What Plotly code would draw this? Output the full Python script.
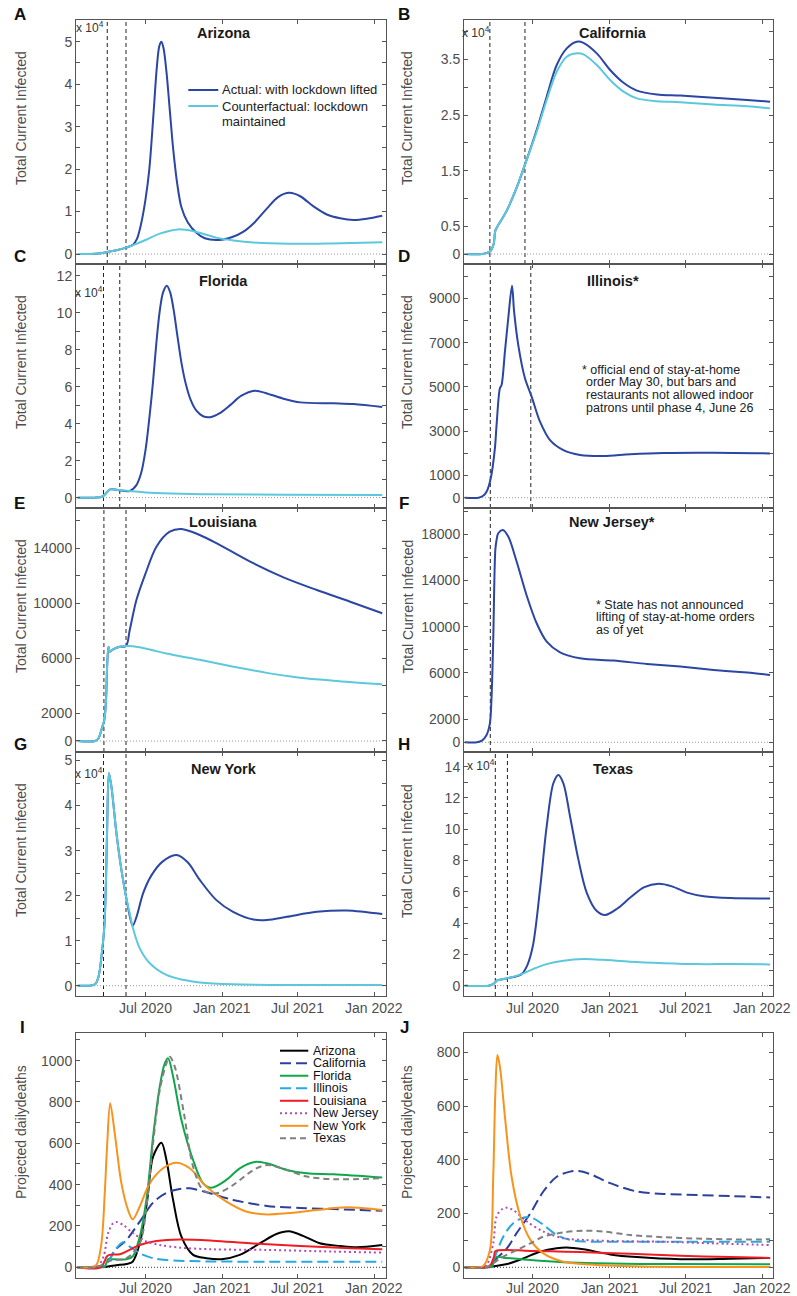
import plotly.graph_objects as go

W, H = 797, 1296

# ======================= DATA =======================
# Panel A: Arizona, total current infected (x 10^4)
az_dates = ['2020-01-20', '2020-02-20', '2020-03-10', '2020-04-01', '2020-04-22', '2020-05-15',
            '2020-06-01', '2020-06-10', '2020-06-20', '2020-07-01', '2020-07-10', '2020-07-20',
            '2020-07-28', '2020-08-03', '2020-08-08', '2020-08-13', '2020-08-20', '2020-08-28',
            '2020-09-05', '2020-09-15', '2020-09-25', '2020-10-10', '2020-10-31', '2020-11-20',
            '2020-12-24', '2021-01-25', '2021-02-20', '2021-03-20', '2021-04-18', '2021-05-15',
            '2021-06-11', '2021-07-07', '2021-08-08', '2021-09-09', '2021-10-11', '2021-11-12',
            '2021-12-14', '2022-01-20']
az_actual = [0, 0, 0.01, 0.05, 0.09, 0.15,
             0.22, 0.35, 0.7, 1.3, 2.0, 3.3,
             4.4, 4.9, 5.0, 4.85, 4.3, 3.4,
             2.5, 1.65, 1.1, 0.75, 0.5, 0.37,
             0.33, 0.40, 0.52, 0.75, 1.07, 1.34,
             1.44, 1.36, 1.12, 0.93, 0.84, 0.80,
             0.83, 0.90]
az_cf_dates = ['2020-01-20', '2020-02-20', '2020-03-10', '2020-04-01', '2020-04-22', '2020-05-15',
               '2020-06-01', '2020-07-01', '2020-08-04', '2020-09-17', '2020-10-31', '2020-12-20',
               '2021-01-28', '2021-03-17', '2021-06-12', '2021-09-21', '2022-01-20']
az_cf = [0, 0, 0.01, 0.05, 0.09, 0.15,
         0.21, 0.33, 0.48, 0.58, 0.52, 0.38,
         0.32, 0.27, 0.24, 0.25, 0.28]

# Panel B: California (x 10^4)
ca_dates = ['2020-01-20', '2020-03-01', '2020-03-12', '2020-03-21', '2020-03-29', '2020-04-02',
            '2020-04-06', '2020-04-30', '2020-05-24', '2020-06-13', '2020-07-10', '2020-08-03',
            '2020-08-27', '2020-09-20', '2020-10-14', '2020-10-30', '2020-12-01', '2021-01-02',
            '2021-02-03', '2021-03-07', '2021-04-24', '2021-06-19', '2021-09-07', '2021-11-26',
            '2022-01-20']
ca_actual = [0, 0, 0.02, 0.05, 0.18, 0.42,
             0.48, 0.79, 1.21, 1.63, 2.23, 2.83,
             3.40, 3.70, 3.82, 3.80, 3.61, 3.31,
             3.08, 2.94, 2.87, 2.85, 2.81, 2.77,
             2.74]
ca_cf = [0, 0, 0.02, 0.05, 0.18, 0.42,
         0.48, 0.79, 1.21, 1.63, 2.20, 2.77,
         3.28, 3.55, 3.61, 3.59, 3.40, 3.13,
         2.92, 2.80, 2.75, 2.73, 2.69, 2.66,
         2.62]

# Panel C: Florida (x 10^4)
fl_dates = ['2020-01-20', '2020-03-01', '2020-03-13', '2020-03-22', '2020-04-07', '2020-04-25',
            '2020-05-24', '2020-06-09', '2020-06-20', '2020-07-01', '2020-07-11', '2020-07-19',
            '2020-07-27', '2020-08-04', '2020-08-12', '2020-08-21', '2020-08-29', '2020-09-06',
            '2020-09-15', '2020-09-25', '2020-10-05', '2020-10-17', '2020-10-31', '2020-11-16',
            '2020-12-03', '2020-12-25', '2021-01-20', '2021-02-15', '2021-03-20', '2021-04-20',
            '2021-05-28', '2021-07-07', '2021-09-25', '2021-11-12', '2022-01-20']
fl_actual = [0, 0, 0.02, 0.1, 0.45, 0.41,
             0.36, 0.68, 1.3, 2.6, 4.5, 6.3,
             8.4, 10.1, 11.1, 11.46, 11.1, 10.2,
             8.8, 7.3, 6.2, 5.3, 4.7, 4.4,
             4.35, 4.55, 5.0, 5.5, 5.78, 5.62,
             5.35, 5.15, 5.1, 5.06, 4.9]
fl_cf_dates = ['2020-01-20', '2020-03-01', '2020-03-13', '2020-03-22', '2020-04-07', '2020-04-25',
               '2020-05-24', '2020-07-01', '2020-09-01', '2020-12-01', '2021-06-01', '2022-01-20']
fl_cf = [0, 0, 0.02, 0.1, 0.45, 0.41,
         0.36, 0.28, 0.22, 0.18, 0.16, 0.14]

# Panel D: Illinois
il_dates = ['2020-01-20', '2020-02-22', '2020-03-04', '2020-03-12', '2020-03-22', '2020-04-01',
            '2020-04-05', '2020-04-13', '2020-04-17', '2020-04-25', '2020-05-03', '2020-05-12',
            '2020-05-17', '2020-05-27', '2020-06-12', '2020-06-28', '2020-07-18', '2020-08-11',
            '2020-09-12', '2020-10-22', '2020-12-17', '2021-02-19', '2021-05-10', '2021-09-07',
            '2022-01-20']
il_actual = [0, 0, 90, 270, 870, 2230,
             3280, 4940, 5090, 6590, 8100, 9570,
             8400, 6890, 5390, 4560, 3430, 2600,
             2150, 1930, 1880, 1960, 2020, 2030,
             2000]

# Panel E: Louisiana
la_dates = ['2020-01-20', '2020-03-02', '2020-03-10', '2020-03-18', '2020-03-24', '2020-03-28',
            '2020-03-31', '2020-04-03', '2020-04-06', '2020-04-14', '2020-04-30', '2020-05-15',
            '2020-05-24', '2020-06-09', '2020-07-01', '2020-07-27', '2020-08-28', '2020-09-25',
            '2020-11-08', '2020-12-19', '2021-03-09', '2021-05-28', '2021-08-16', '2021-11-04',
            '2022-01-20']
la_actual = [0, 0, 190, 920, 1530, 2980,
             5640, 6850, 6490, 6660, 6850, 6900,
             8060, 10240, 12180, 14120, 15210, 15400,
             14970, 14360, 13030, 11890, 10970, 10120,
             9280]
la_cf_dates = ['2020-01-20', '2020-03-02', '2020-03-10', '2020-03-18', '2020-03-24', '2020-03-28',
               '2020-03-31', '2020-04-03', '2020-04-06', '2020-04-14', '2020-04-30', '2020-05-15',
               '2020-06-01', '2020-07-11', '2020-08-20', '2020-11-08', '2021-01-28', '2021-04-18',
               '2021-07-07', '2021-09-25', '2022-01-20']
la_cf = [0, 0, 190, 920, 1530, 2980,
         5640, 6850, 6490, 6660, 6850, 6900,
         6880, 6650, 6350, 5900, 5400, 4950,
         4600, 4380, 4120]

# Panel F: New Jersey
nj_dates = ['2020-01-20', '2020-02-18', '2020-03-01', '2020-03-12', '2020-03-20', '2020-03-24',
            '2020-03-28', '2020-04-02', '2020-04-05', '2020-04-09', '2020-04-20', '2020-05-03',
            '2020-05-23', '2020-06-17', '2020-07-10', '2020-08-03', '2020-09-04', '2020-10-22',
            '2021-01-10', '2021-03-31', '2021-06-19', '2021-09-07', '2021-11-26', '2022-01-20']
nj_actual = [0, 0, 140, 630, 1640, 3950,
             8860, 16640, 17510, 18090, 18370, 17800,
             15640, 12600, 10300, 8710, 7790, 7270,
             7070, 6780, 6550, 6260, 6030, 5830]

# Panel G: New York (x 10^4)
ny_dates = ['2020-01-20', '2020-02-18', '2020-03-02', '2020-03-10', '2020-03-18', '2020-03-24',
            '2020-03-28', '2020-03-31', '2020-04-04', '2020-04-10', '2020-04-22', '2020-05-04',
            '2020-05-15', '2020-05-24', '2020-05-31', '2020-06-10', '2020-06-25', '2020-07-15',
            '2020-08-10', '2020-09-13', '2020-10-10', '2020-11-08', '2020-12-18', '2021-01-27',
            '2021-03-17', '2021-04-18', '2021-06-05', '2021-08-16', '2021-10-27', '2022-01-20']
ny_actual = [0, 0, 0.03, 0.2, 0.72, 1.31,
             2.35, 3.61, 4.72, 4.42, 3.39, 2.57,
             1.98, 1.55, 1.33, 1.55, 2.05, 2.45,
             2.75, 2.90, 2.74, 2.35, 1.90, 1.64,
             1.47, 1.46, 1.53, 1.64, 1.67, 1.59]
ny_cf_dates = ['2020-01-20', '2020-02-18', '2020-03-02', '2020-03-10', '2020-03-18', '2020-03-24',
               '2020-03-28', '2020-03-31', '2020-04-04', '2020-04-10', '2020-04-22', '2020-05-04',
               '2020-05-15', '2020-05-24', '2020-06-01', '2020-06-17', '2020-07-11', '2020-08-20',
               '2020-09-29', '2020-11-08', '2021-01-27', '2022-01-20']
ny_cf = [0, 0, 0.03, 0.2, 0.72, 1.31,
         2.35, 3.61, 4.72, 4.42, 3.39, 2.57,
         1.98, 1.60, 1.27, 0.83, 0.50, 0.24,
         0.13, 0.07, 0.03, 0.015]

# Panel H: Texas (x 10^4)
tx_dates = ['2020-01-20', '2020-03-17', '2020-03-28', '2020-04-03', '2020-04-05', '2020-05-01',
            '2020-06-04', '2020-06-17', '2020-07-01', '2020-07-18', '2020-08-03', '2020-08-19',
            '2020-08-31', '2020-09-12', '2020-09-28', '2020-10-18', '2020-11-07', '2020-12-01',
            '2020-12-21', '2021-01-20', '2021-02-20', '2021-03-25', '2021-04-28', '2021-05-30',
            '2021-07-05', '2021-08-14', '2021-10-17', '2022-01-20']
tx_actual = [0, 0, 0.1, 0.25, 0.32, 0.47,
             0.74, 1.27, 2.55, 6.15, 10.18, 12.94,
             13.47, 12.94, 10.82, 8.06, 5.94, 4.77,
             4.52, 4.95, 5.65, 6.30, 6.51, 6.35,
             5.95, 5.72, 5.60, 5.58]
tx_cf_dates = ['2020-01-20', '2020-03-17', '2020-03-28', '2020-04-03', '2020-04-05', '2020-05-01',
               '2020-06-04', '2020-07-01', '2020-08-03', '2020-09-12', '2020-10-30', '2020-12-17',
               '2021-02-19', '2021-05-10', '2021-07-29', '2021-10-17', '2022-01-20']
tx_cf = [0, 0, 0.1, 0.25, 0.32, 0.47,
         0.74, 1.06, 1.38, 1.59, 1.70, 1.65,
         1.53, 1.44, 1.38, 1.38, 1.36]

# Lockdown start / lift dates (dashed vertical lines)
lock_dates = {
    'Arizona': ['2020-03-31', '2020-05-15'],
    'California': ['2020-03-20', '2020-06-12'],
    'Florida': ['2020-03-22', '2020-04-30'],
    'Illinois': ['2020-03-21', '2020-06-26'],
    'Louisiana': ['2020-03-23', '2020-05-15'],
    'New Jersey': ['2020-03-21'],
    'New York': ['2020-03-22', '2020-05-15'],
    'Texas': ['2020-04-02', '2020-05-01'],
}

# Panel I: projected daily deaths, lockdown lifted
i_az_d = ['2020-01-20', '2020-03-05', '2020-03-30', '2020-04-22', '2020-05-16', '2020-05-31', '2020-06-17',
          '2020-07-04', '2020-07-19', '2020-08-08', '2020-08-20', '2020-09-05', '2020-09-25', '2020-10-23',
          '2020-11-24', '2020-12-30', '2021-02-12', '2021-04-01', '2021-05-11', '2021-06-10', '2021-07-14',
          '2021-08-23', '2021-10-11', '2021-11-20', '2022-01-20']
i_az = [0, 0, 3, 10, 16, 27, 116, 310, 535, 603, 519, 326, 148, 60,
        44, 39, 60, 116, 161, 174, 152, 116, 103, 97, 108]
i_ca_d = ['2020-01-20', '2020-03-10', '2020-03-30', '2020-04-19', '2020-05-16', '2020-06-17', '2020-07-19',
          '2020-08-20', '2020-09-21', '2020-10-15', '2020-11-24', '2021-01-27', '2021-04-18', '2021-07-07',
          '2021-09-25', '2022-01-20']
i_ca = [0, 0, 19, 84, 132, 221, 313, 360, 379, 382, 363, 326, 297, 287, 282, 273]
i_fl_d = ['2020-01-20', '2020-03-15', '2020-03-25', '2020-04-02', '2020-04-10', '2020-05-16', '2020-05-31',
          '2020-06-17', '2020-07-04', '2020-07-19', '2020-08-04', '2020-08-16', '2020-08-24', '2020-09-05',
          '2020-09-25', '2020-10-23', '2020-11-16', '2020-12-06', '2021-01-11', '2021-02-12', '2021-03-20',
          '2021-04-18', '2021-06-05', '2021-07-23', '2021-09-25', '2022-01-20']
i_fl = [0, 0, 2, 40, 39, 39, 52, 148, 342, 632, 874, 987, 1011, 923,
        713, 519, 406, 385, 423, 479, 510, 503, 471, 455, 450, 434]
i_il_d = ['2020-01-20', '2020-03-10', '2020-03-30', '2020-04-19', '2020-05-08', '2020-05-24', '2020-06-17',
          '2020-07-19', '2020-08-20', '2020-11-08', '2021-04-18', '2022-01-20']
i_il = [0, 0, 19, 84, 121, 100, 68, 44, 35, 29, 27, 27]
i_la_d = ['2020-01-20', '2020-03-15', '2020-03-30', '2020-04-05', '2020-04-30', '2020-05-20', '2020-06-17',
          '2020-07-27', '2020-09-21', '2020-12-10', '2021-03-09', '2021-07-07', '2021-11-04', '2022-01-20']
i_la = [0, 0, 52, 60, 63, 81, 108, 127, 135, 129, 116, 103, 92, 87]
i_nj_d = ['2020-01-20', '2020-03-05', '2020-03-22', '2020-04-02', '2020-04-14', '2020-04-22', '2020-05-08',
          '2020-06-01', '2020-07-04', '2020-08-04', '2020-09-21', '2020-12-10', '2021-04-18', '2021-09-25',
          '2022-01-20']
i_nj = [0, 0, 52, 165, 213, 219, 205, 165, 124, 108, 95, 87, 84, 76, 71]
i_ny_d = ['2020-01-20', '2020-02-20', '2020-03-05', '2020-03-17', '2020-03-25', '2020-03-31', '2020-04-07',
          '2020-04-19', '2020-05-04', '2020-05-20', '2020-05-31', '2020-06-17', '2020-07-11', '2020-08-12',
          '2020-09-13', '2020-10-15', '2020-11-24', '2021-01-11', '2021-03-01', '2021-04-18', '2021-06-05',
          '2021-08-16', '2021-10-27', '2022-01-20']
i_ny = [0, 0, 11, 116, 358, 600, 794, 632, 406, 277, 232, 294, 406, 479,
        506, 479, 390, 318, 269, 256, 261, 277, 290, 277]
i_tx_d = ['2020-01-20', '2020-03-01', '2020-03-13', '2020-04-07', '2020-05-16', '2020-06-17', '2020-07-04',
          '2020-07-19', '2020-08-04', '2020-08-20', '2020-08-28', '2020-09-09', '2020-10-01', '2020-10-23',
          '2020-11-16', '2020-12-18', '2021-01-27', '2021-03-17', '2021-04-18', '2021-06-05', '2021-07-23',
          '2021-09-25', '2022-01-20']
i_tx = [0, 0, 6, 32, 44, 116, 310, 600, 858, 987, 1019, 971, 745, 487,
        374, 358, 398, 471, 495, 471, 439, 426, 431]

# Panel J: projected daily deaths, lockdown maintained
j_az_d = ['2020-01-20', '2020-03-10', '2020-03-20', '2020-04-30', '2020-06-08', '2020-07-18', '2020-08-27',
          '2020-09-20', '2020-10-30', '2021-01-02', '2021-03-07', '2021-06-19', '2021-10-17', '2022-01-20']
j_az = [0, 0, 2, 12, 33, 58, 71, 74, 67, 48, 38, 30, 32, 35]
j_ca_d = ['2020-01-20', '2020-03-05', '2020-03-20', '2020-04-05', '2020-04-30', '2020-05-23', '2020-06-25',
          '2020-07-26', '2020-08-27', '2020-09-28', '2020-10-18', '2020-11-15', '2021-01-02', '2021-03-07',
          '2021-05-10', '2021-07-29', '2021-10-17', '2022-01-20']
j_ca = [0, 0, 5, 33, 71, 127, 201, 282, 337, 356, 358, 347, 313, 282, 273, 269, 265, 260]
j_fl_d = ['2020-01-20', '2020-03-15', '2020-03-25', '2020-04-02', '2020-04-21', '2020-06-25', '2020-09-12',
          '2020-12-01', '2021-05-10', '2022-01-20']
j_fl = [0, 0, 2, 38, 36, 27, 19, 15, 12, 11]
j_il_d = ['2020-01-20', '2020-03-05', '2020-03-20', '2020-04-01', '2020-04-21', '2020-05-15', '2020-06-12',
          '2020-07-02', '2020-07-26', '2020-08-27', '2020-09-28', '2020-10-30', '2021-01-02', '2021-05-10',
          '2021-10-17', '2022-01-20']
j_il = [0, 0, 5, 40, 114, 164, 186, 182, 158, 120, 102, 96, 95, 95, 95, 95]
j_la_d = ['2020-01-20', '2020-03-10', '2020-03-20', '2020-03-30', '2020-04-02', '2020-06-25', '2020-10-22',
          '2021-02-19', '2021-06-19', '2021-10-17', '2022-01-20']
j_la = [0, 0, 5, 40, 60, 61, 57, 50, 43, 38, 35]
j_nj_d = ['2020-01-20', '2020-02-25', '2020-03-12', '2020-03-28', '2020-04-05', '2020-04-18', '2020-04-30',
          '2020-05-15', '2020-06-17', '2020-07-26', '2020-09-12', '2020-10-30', '2021-01-02', '2021-05-10',
          '2021-09-07', '2022-01-20']
j_nj = [0, 0, 9, 89, 189, 216, 222, 213, 170, 133, 108, 102, 98, 95, 89, 83]
j_ny_d = ['2020-01-20', '2020-02-18', '2020-03-04', '2020-03-20', '2020-03-28', '2020-04-02', '2020-04-07',
          '2020-04-13', '2020-04-25', '2020-05-11', '2020-06-01', '2020-06-25', '2020-07-26', '2020-09-12',
          '2020-12-01', '2021-05-10', '2022-01-20']
j_ny = [0, 0, 5, 64, 337, 647, 790, 747, 561, 337, 189, 102, 52, 21, 9, 2, 1]
j_tx_d = ['2020-01-20', '2020-03-10', '2020-03-28', '2020-04-13', '2020-05-23', '2020-06-25', '2020-07-26',
          '2020-09-12', '2020-10-30', '2020-12-17', '2021-02-19', '2021-05-10', '2021-07-29', '2021-10-17',
          '2022-01-20']
j_tx = [0, 0, 15, 33, 64, 89, 114, 130, 136, 133, 120, 112, 107, 104, 104]

# x-axis tick labels
x_tickvals = ['2020-07-01', '2021-01-01', '2021-07-01', '2022-01-01']
x_ticktext = ['Jul 2020', 'Jan 2021', 'Jul 2021', 'Jan 2022']

# ======================= STYLE =======================
FONT = 'Liberation Sans, Arial, Helvetica, sans-serif'
BLUE = '#2B46A3'
CYAN = '#5CC8DC'
TICKC = '#4D4D4D'
AXC = '#555555'
state_colors = {
    'Arizona': '#000000', 'California': '#2E3F9C', 'Florida': '#10A64A', 'Illinois': '#25A9E1',
    'Louisiana': '#EE1D24', 'New Jersey': '#B24DAE', 'New York': '#F7941D', 'Texas': '#808080'}
state_dash = {
    'Arizona': 'solid', 'California': '11px,5px', 'Florida': 'solid', 'Illinois': '11px,5px',
    'Louisiana': 'solid', 'New Jersey': '2px,3px', 'New York': 'solid', 'Texas': '6px,4px'}

LEFT = [76 / W, 386 / W]
RIGHT = [464 / W, 773 / W]
ROWS = [(20, 264), (264, 508), (508, 752), (752, 996), (1033, 1278)]


def ydom(t, b):
    return [1 - b / H, 1 - t / H]


def px(x):
    return x / W


def py(y):
    return 1 - y / H


fig = go.Figure()


def minor_list(step, top):
    vals = []
    v = 0.0
    while v <= top + 1e-9:
        vals.append(round(v, 6))
        v += step
    return vals


panels = [
    ('Arizona', 0, 0, [(az_dates, az_actual, BLUE), (az_cf_dates, az_cf, CYAN)],
     [-0.235, 5.51], 0.5, 5, [0, 1, 2, 3, 4, 5]),
    ('California', 0, 1, [(ca_dates, ca_actual, BLUE), (ca_dates, ca_cf, CYAN)],
     [-0.18, 4.21], 0.5, 4, [0, 0.5, 1.5, 2.5, 3.5]),
    ('Florida', 1, 0, [(fl_dates, fl_actual, BLUE), (fl_cf_dates, fl_cf, CYAN)],
     [-0.56, 12.63], 1, 12, [0, 2, 4, 6, 8, 10, 12]),
    ('Illinois', 1, 1, [(il_dates, il_actual, BLUE)],
     [-465, 10548], 1000, 10000, [0, 1000, 3000, 5000, 7000, 9000]),
    ('Louisiana', 2, 0, [(la_dates, la_actual, BLUE), (la_cf_dates, la_cf, CYAN)],
     [-800, 16930], 2000, 16000, [0, 2000, 6000, 10000, 14000]),
    ('New Jersey', 2, 1, [(nj_dates, nj_actual, BLUE)],
     [-840, 20276], 2000, 20000, [0, 2000, 6000, 10000, 14000, 18000]),
    ('New York', 3, 0, [(ny_dates, ny_actual, BLUE), (ny_cf_dates, ny_cf, CYAN)],
     [-0.229, 5.19], 0.5, 5, [0, 1, 2, 3, 4, 5]),
    ('Texas', 3, 1, [(tx_dates, tx_actual, BLUE), (tx_cf_dates, tx_cf, CYAN)],
     [-0.66, 14.94], 1, 14, [0, 2, 4, 6, 8, 10, 12, 14]),
]
titles = {'Arizona': 'Arizona', 'California': 'California', 'Florida': 'Florida',
          'Illinois': 'Illinois*', 'Louisiana': 'Louisiana', 'New Jersey': 'New Jersey*',
          'New York': 'New York', 'Texas': 'Texas'}

layout = {}
shapes = []
annotations = []


def axis_common(n, col, row, yrange, labelled, minor_vals):
    xd = LEFT if col == 0 else RIGHT
    xr = ['2020-01-16', '2022-01-29'] if col == 0 else ['2020-01-18', '2022-01-27']
    t, b = ROWS[row]
    sfx = '' if n == 1 else str(n)
    layout['xaxis' + sfx] = dict(
        domain=xd, range=xr, type='date', anchor='y' + sfx,
        showline=True, linecolor=AXC, linewidth=1, mirror='ticks',
        ticks='inside', ticklen=4, tickcolor=AXC, tickmode='array',
        tickvals=x_tickvals, showticklabels=False,
        showgrid=False, zeroline=False)
    layout['yaxis' + sfx] = dict(
        domain=ydom(t, b), range=yrange, anchor='x' + sfx,
        showline=True, linecolor=AXC, linewidth=1, mirror='ticks',
        ticks='inside', ticklen=4, tickcolor=AXC, tickmode='array',
        tickvals=labelled, ticktext=['%g' % v for v in labelled],
        minor=dict(tickmode='array', tickvals=minor_vals, ticks='inside', ticklen=4,
                   tickcolor=AXC, showgrid=False),
        tickfont=dict(family=FONT, size=14, color=TICKC), showgrid=False, zeroline=False)


def date_labels(n, ycenter):
    # x tick labels placed through the axis' own date scale
    sfx = '' if n == 1 else str(n)
    for v, t in zip(x_tickvals, x_ticktext):
        annotations.append(dict(x=v, y=py(ycenter), xref='x' + sfx, yref='paper', text=t,
                                showarrow=False, xanchor='center', yanchor='middle',
                                font=dict(family=FONT, size=14, color=TICKC)))


n = 0
for (state, row, col, series, yr, step, top, labelled) in panels:
    n += 1
    sfx = '' if n == 1 else str(n)
    axis_common(n, col, row, yr, labelled, minor_list(step, top))
    if row == 3:
        date_labels(n, 1007.5)
    for (xs, ys, c) in series:
        fig.add_trace(go.Scatter(x=xs, y=ys, mode='lines', showlegend=False,
                                 line=dict(color=c, width=2, shape='spline', smoothing=0.9),
                                 xaxis='x' + sfx, yaxis='y' + sfx, name=state))
    for d in lock_dates[state]:
        shapes.append(dict(type='line', xref='x' + sfx, yref='y' + sfx + ' domain',
                           x0=d, x1=d, y0=0, y1=1, layer='below',
                           line=dict(color='#222222', width=1, dash='4px,3px')))
    shapes.append(dict(type='line', xref='x' + sfx + ' domain', yref='y' + sfx,
                       x0=0, x1=1, y0=0, y1=0, layer='below',
                       line=dict(color='#999999', width=1, dash='1px,2px')))

# Panels I and J
death_states = ['Arizona', 'California', 'Florida', 'Illinois', 'Louisiana', 'New Jersey', 'New York', 'Texas']
i_series = [(i_az_d, i_az), (i_ca_d, i_ca), (i_fl_d, i_fl), (i_il_d, i_il),
            (i_la_d, i_la), (i_nj_d, i_nj), (i_ny_d, i_ny), (i_tx_d, i_tx)]
j_series = [(j_az_d, j_az), (j_ca_d, j_ca), (j_fl_d, j_fl), (j_il_d, j_il),
            (j_la_d, j_la), (j_nj_d, j_nj), (j_ny_d, j_ny), (j_tx_d, j_tx)]

for (n, col, ser, yr, top) in [(9, 0, i_series, [-51.8, 1133.6], 1100), (10, 1, j_series, [-39.8, 871.8], 800)]:
    sfx = str(n)
    labelled = [0, 200, 400, 600, 800, 1000] if n == 9 else [0, 200, 400, 600, 800]
    axis_common(n, col, 4, yr, labelled, minor_list(100, top))
    date_labels(n, 1287.5)
    for st, (xs, ys) in zip(death_states, ser):
        fig.add_trace(go.Scatter(x=xs, y=ys, mode='lines', showlegend=False, name=st,
                                 line=dict(color=state_colors[st], width=2, dash=state_dash[st],
                                           shape='spline', smoothing=0.9),
                                 xaxis='x' + sfx, yaxis='y' + sfx))
    shapes.append(dict(type='line', xref='x' + sfx + ' domain', yref='y' + sfx,
                       x0=0, x1=1, y0=0, y1=0, layer='below',
                       line=dict(color='#333333', width=1, dash='1px,2px')))


# ---------------- text ----------------
def ann(x, y, text, size=14, color='#222222', bold=False, xanchor='center', yanchor='middle', angle=0):
    t = '<b>%s</b>' % text if bold else text
    annotations.append(dict(x=px(x), y=py(y), xref='paper', yref='paper', text=t, showarrow=False,
                            xanchor=xanchor, yanchor=yanchor, textangle=angle,
                            font=dict(family=FONT, size=size, color=color)))


# panel letters
for L, x, y in [('A', 20, 15), ('B', 404, 15), ('C', 20, 257), ('D', 404, 257), ('E', 19, 503),
                ('F', 404, 504), ('G', 20, 744), ('H', 404, 744), ('I', 22, 1027), ('J', 404, 1027)]:
    ann(x, y, L, size=17, color='#111111', bold=True)

# panel titles
for st, x, y in [('Arizona', 223.7, 33), ('California', 613, 33), ('Florida', 223.7, 281),
                 ('Illinois', 613, 281), ('Louisiana', 223.8, 522), ('New Jersey', 612, 522),
                 ('New York', 223.7, 769), ('Texas', 613.2, 769)]:
    ann(x, y, titles[st], size=14.5, color='#1a1a1a', bold=True)

# y-axis titles
for x, y in [(21, 118), (407, 118), (21, 362), (407, 362), (21, 606), (407, 606.5), (21, 850), (407, 851)]:
    ann(x, y, 'Total Current Infected', size=14, color=TICKC, angle=-90)
ann(21, 1132, 'Projected dailydeaths', size=14, color=TICKC, angle=-90)
ann(407, 1132, 'Projected dailydeaths', size=14, color=TICKC, angle=-90)

# exponent labels
for x, y in [(74, 27), (460, 32), (73, 292), (73, 773), (465, 765)]:
    ann(x, y, 'x 10<sup>4</sup>', size=12, color='#333333', xanchor='left')

# notes
for x, y, t in [(580, 370, '* official end of stay-at-home'), (584, 382.5, 'order May 30, but bars and'),
                (583.7, 395, 'restaurants not allowed indoor'), (584.3, 407.5, 'patrons until phase 4, June 26')]:
    ann(x, y, t, size=12.5, color='#222222', xanchor='left')
for x, y, t in [(593.7, 605, '* State has not announced'), (593.7, 617.3, 'lifting of stay-at-home orders'),
                (593.7, 629.5, 'as of yet')]:
    ann(x, y, t, size=12.5, color='#222222', xanchor='left')

# legend, panel A
ann(219.5, 90, 'Actual: with lockdown lifted', size=13, color='#222222', xanchor='left')
ann(219.5, 106, 'Counterfactual: lockdown', size=13, color='#222222', xanchor='left')
ann(219.5, 121.5, 'maintained', size=13, color='#222222', xanchor='left')
shapes.append(dict(type='line', xref='paper', yref='paper', x0=px(188.3), x1=px(218.3), y0=py(90), y1=py(90),
                   line=dict(color=BLUE, width=2)))
shapes.append(dict(type='line', xref='paper', yref='paper', x0=px(188.3), x1=px(218.3), y0=py(106), y1=py(106),
                   line=dict(color=CYAN, width=2)))

# legend, panel I
for k, st in enumerate(death_states):
    yy = 1050.7 + k * 12.52
    ann(310.7, yy, st, size=12.5, color='#111111', xanchor='left')
    shapes.append(dict(type='line', xref='paper', yref='paper', x0=px(280), x1=px(308.3), y0=py(yy), y1=py(yy),
                       line=dict(color=state_colors[st], width=2, dash=state_dash[st])))

fig.update_layout(**layout)
fig.update_layout(width=W, height=H, margin=dict(l=0, r=0, t=0, b=0),
                  paper_bgcolor='white', plot_bgcolor='white',
                  shapes=shapes, annotations=annotations, showlegend=False,
                  font=dict(family=FONT, size=14, color=TICKC))

# remove the page's default body margin so the 797x1296 figure fills the window exactly
fig.write_html('out.html', config={'displayModeBar': False},
               post_script="document.body.style.margin='0px';document.body.style.padding='0px';"
                           "document.documentElement.style.overflow='hidden';")
